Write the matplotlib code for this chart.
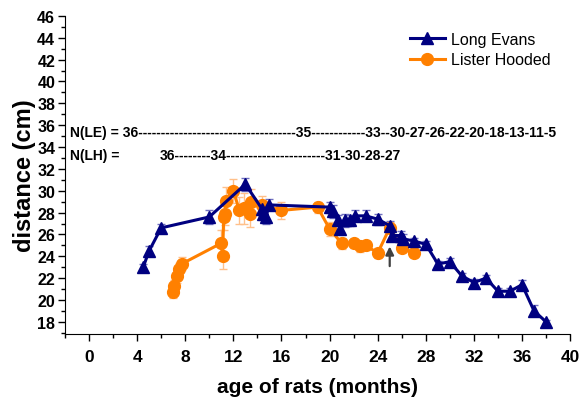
import matplotlib
matplotlib.use("Agg")
import matplotlib.pyplot as plt
from matplotlib.ticker import MultipleLocator

plt.rcParams['font.family'] = ['Liberation Sans', 'DejaVu Sans']

# Long Evans
le_age = [4.5, 5.0, 6.0, 10.0, 13.0, 14.4, 14.5, 14.7, 15.0, 20.0, 20.3, 20.7, 20.9,
          21.3, 21.7, 22.1, 23.0, 24.0, 25.0, 25.2, 25.9, 26.1, 27.0, 28.0, 29.0, 30.0,
          31.0, 32.0, 33.0, 34.0, 35.0, 36.0, 37.0, 38.0]
le_dist = [23.0, 24.5, 26.6, 27.6, 30.6, 28.3, 27.9, 27.6, 28.7, 28.5, 28.1, 27.3, 26.5,
           27.3, 27.3, 27.7, 27.7, 27.4, 26.8, 25.9, 25.9, 25.6, 25.4, 25.1, 23.3, 23.5,
           22.2, 21.6, 22.0, 20.8, 20.8, 21.4, 19.0, 18.0]
le_err = [0.3, 0.4, 0.4, 0.6, 0.6, 0.6, 0.6, 0.6, 0.5, 0.5, 0.6, 0.5, 0.5,
          0.6, 0.5, 0.5, 0.5, 0.5, 0.4, 0.4, 0.4, 0.4, 0.3, 0.3, 0.3, 0.3,
          0.3, 0.3, 0.3, 0.3, 0.3, 0.4, 0.5, 0.2]

# Lister Hooded
lh_age = [7.0, 7.1, 7.3, 7.5, 7.7, 11.0, 11.1, 11.2, 11.3, 11.4, 12.0, 12.5, 12.9,
          13.4, 13.5, 14.4, 16.0, 19.0, 20.0, 21.0, 22.0, 22.5, 23.0, 24.0, 25.0,
          26.0, 27.0]
lh_dist = [20.7, 21.3, 22.2, 22.8, 23.3, 25.2, 24.0, 27.6, 27.9, 29.1, 30.0, 28.2, 28.4,
           27.9, 29.0, 28.7, 28.2, 28.5, 26.5, 25.2, 25.2, 24.9, 25.0, 24.3, 26.6,
           24.8, 24.3]
lh_err = [0.5, 0.5, 0.6, 0.6, 0.6, 1.2, 1.2, 1.2, 1.0, 1.2, 1.1, 1.2, 1.4,
          1.2, 1.2, 0.8, 0.8, 0.5, 0.6, 0.5, 0.4, 0.5, 0.4, 0.5, 0.5,
          0.4, 0.4]

n_le = "N(LE) = 36" + "-" * 35 + "35" + "-" * 12 + "33--30-27-26-22-20-18-13-11-5"
n_lh_label = "N(LH) ="
n_lh = "36" + "-" * 8 + "34" + "-" * 22 + "31-30-28-27"

navy = "#000080"
orange = "#ff8000"

fig = plt.figure(figsize=(5.8, 4.02), dpi=100)
ax = fig.add_axes([0.112, 0.167, 0.871, 0.791])

ax.errorbar(lh_age, lh_dist, yerr=lh_err, fmt="none", ecolor="#ffc08a",
            elinewidth=1, capsize=3, zorder=1)
ax.errorbar(le_age, le_dist, yerr=le_err, fmt="none", ecolor="#7070c0",
            elinewidth=1, capsize=3, zorder=1)
ax.plot(le_age, le_dist, color=navy, marker="^", markersize=8.5, lw=2.2,
        label="Long Evans", zorder=3)
ax.plot(lh_age, lh_dist, color=orange, marker="o", markersize=8.5, lw=2.2,
        label="Lister Hooded", zorder=2)

ax.annotate("", xy=(25, 24.9), xytext=(25, 23.1),
            arrowprops=dict(arrowstyle="-|>", color="#404040", lw=1.6,
                            mutation_scale=12, shrinkA=0, shrinkB=0))

ax.text(-1.6, 35.4, n_le, fontsize=10, fontweight="bold", va="center")
ax.text(-1.6, 33.3, n_lh_label, fontsize=10, fontweight="bold", va="center")
ax.text(5.9, 33.3, n_lh, fontsize=10, fontweight="bold", va="center")

ax.set_xlim(-2, 40)
ax.set_ylim(16.9, 46)
ax.xaxis.set_major_locator(MultipleLocator(4))
ax.xaxis.set_minor_locator(MultipleLocator(2))
ax.yaxis.set_major_locator(MultipleLocator(2))
ax.yaxis.set_minor_locator(MultipleLocator(1))
ax.spines["top"].set_visible(False)
ax.spines["right"].set_visible(False)
ax.tick_params(which="major", length=5, width=1)
ax.tick_params(which="minor", length=3, width=1)
ax.tick_params(axis="x", labelsize=12.5, pad=6)
ax.tick_params(axis="y", labelsize=11.5, pad=2)
for lab in ax.get_xticklabels() + ax.get_yticklabels():
    lab.set_fontweight("bold")

ax.set_xlabel("age of rats (months)", fontsize=15, fontweight="bold", labelpad=9)
ax.set_ylabel("distance (cm)", fontsize=17, fontweight="bold", labelpad=1)

ax.legend(loc="upper right", bbox_to_anchor=(0.99, 0.995), frameon=False,
          fontsize=11.5, handlelength=2.2, handletextpad=0.4, labelspacing=0.35)

fig.savefig("out.png", dpi=100)
